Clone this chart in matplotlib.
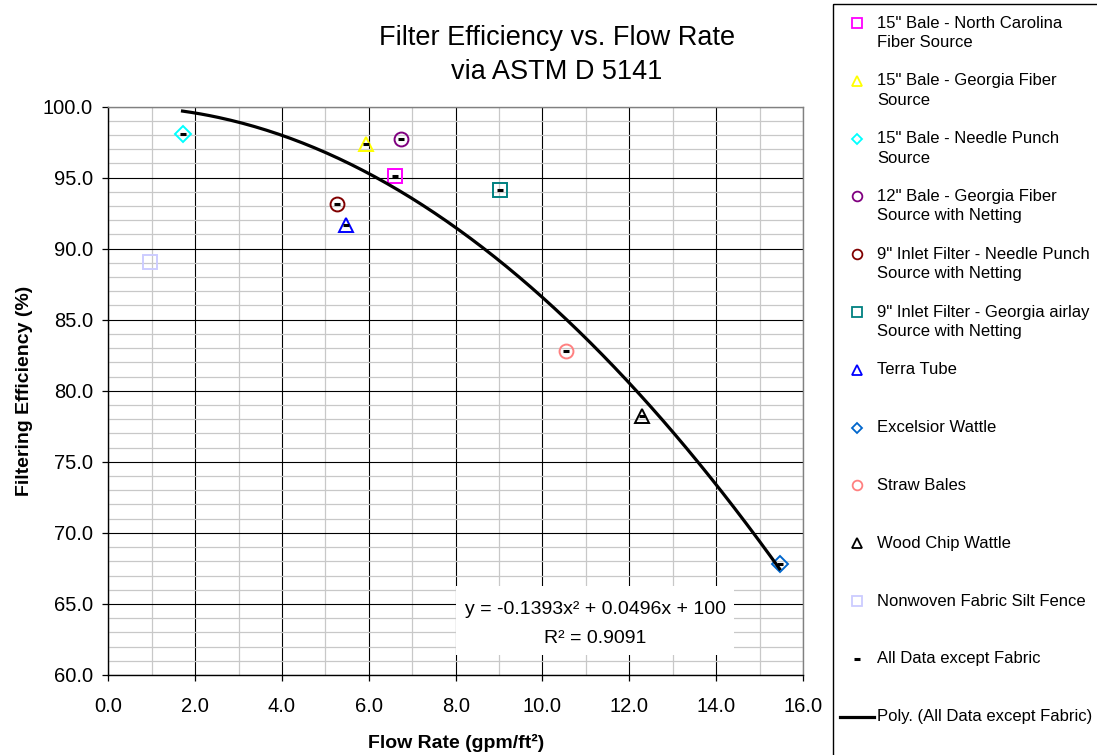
import numpy as np
import matplotlib
matplotlib.use("Agg")
import matplotlib.pyplot as plt
from matplotlib.patches import Rectangle

plt.rcParams['font.family'] = ['Liberation Sans', 'DejaVu Sans']

# data (flow rate gpm/ft2, filtering efficiency %)
labels = [
    '15" Bale - North Carolina\nFiber Source',
    '15" Bale - Georgia Fiber\nSource',
    '15" Bale - Needle Punch\nSource',
    '12" Bale - Georgia Fiber\nSource with Netting',
    '9" Inlet Filter - Needle Punch\nSource with Netting',
    '9" Inlet Filter - Georgia airlay\nSource with Netting',
    'Terra Tube',
    'Excelsior Wattle',
    'Straw Bales',
    'Wood Chip Wattle',
    'Nonwoven Fabric Silt Fence',
]
flow = [6.60, 5.93, 1.71, 6.75, 5.27, 9.02, 5.47, 15.46, 10.55, 12.30, 0.97]
eff = [95.12, 97.35, 98.07, 97.74, 93.17, 94.13, 91.67, 67.79, 82.80, 78.25, 89.08]
markers = ['s', '^', 'D', 'o', 'o', 's', '^', 'D', 'o', '^', 's']
colors = ['#FF00FF', '#FFFF00', '#00FFFF', '#800080', '#800000', '#008080',
          '#0000FF', '#0066CC', '#FF8080', '#000000', '#CCCCFF']

# quadratic trend reported on the chart
coef = [-0.1393, 0.0496, 100]
eq_text = 'y = -0.1393x\u00b2 + 0.0496x + 100'
r2_text = 'R\u00b2 = 0.9091'

# all data except the fabric (last series)
all_x = np.array(flow[:-1])
all_y = np.array(eff[:-1])

fig = plt.figure(figsize=(10.97, 7.55), dpi=100)
ax = fig.add_axes([108.3 / 1097, 80 / 755, 694.7 / 1097, 568.5 / 755])

for x, y, m, c in zip(flow, eff, markers, colors):
    ms = 7.8 if m == 'D' else 10
    ax.plot([x], [y], linestyle='none', marker=m, ms=ms, mfc='none', mec=c, mew=1.4, zorder=3)

xs = np.linspace(all_x.min(), all_x.max(), 200)
ax.plot(xs, np.polyval(coef, xs), color='black', lw=2.3, zorder=4)
ax.plot(all_x, all_y, linestyle='none', marker='_', ms=4.5, mew=2.2, color='black', zorder=5)

ax.set_xlim(0, 16)
ax.set_ylim(60, 100)
ax.set_xticks(np.arange(0, 17, 2))
ax.set_xticks(np.arange(0, 17, 1), minor=True)
ax.set_yticks(np.arange(60, 101, 5))
ax.set_yticks(np.arange(60, 101, 1), minor=True)
ax.xaxis.set_major_formatter(matplotlib.ticker.FormatStrFormatter('%.1f'))
ax.yaxis.set_major_formatter(matplotlib.ticker.FormatStrFormatter('%.1f'))
ax.grid(which='minor', color='#c8c8c8', lw=0.9)
ax.grid(which='major', color='black', lw=0.8)
ax.set_axisbelow(True)
ax.tick_params(which='minor', length=0)
ax.tick_params(which='major', direction='out', length=4.5, width=0.9, labelsize=14.5)
ax.tick_params(axis='x', pad=11.5)
ax.tick_params(axis='y', pad=6.5)
for s in ['left', 'bottom']:
    ax.spines[s].set_color('black')
    ax.spines[s].set_linewidth(1.0)
for s in ['top', 'right']:
    ax.spines[s].set_color('#808080')
    ax.spines[s].set_linewidth(1.0)

ax.set_xlabel('Flow Rate (gpm/ft\u00b2)', fontsize=14, fontweight='bold', labelpad=12.5)
ax.set_ylabel('Filtering Efficiency (%)', fontsize=14, fontweight='bold', labelpad=7)

# equation box
ax.add_patch(Rectangle((0.501, 0.035), 0.40, 0.122, transform=ax.transAxes,
                       facecolor='white', edgecolor='none', zorder=2.5))
ax.text(0.701, 0.1155, eq_text, transform=ax.transAxes, ha='center', va='center', fontsize=14, zorder=6)
ax.text(0.701, 0.0645, r2_text, transform=ax.transAxes, ha='center', va='center', fontsize=14, zorder=6)

# title
fig.text(557 / 1097, 1 - 45 / 755, 'Filter Efficiency vs. Flow Rate', ha='center', va='baseline', fontsize=19.5)
fig.text(557 / 1097, 1 - 79 / 755, 'via ASTM D 5141', ha='center', va='baseline', fontsize=19.5)

# legend drawn in pixel space on an overlay axes
lax = fig.add_axes([0, 0, 1, 1])
lax.set_xlim(0, 1097)
lax.set_ylim(755, 0)
lax.axis('off')
lax.add_patch(Rectangle((832.5, 3.5), 400, 800, fill=False, edgecolor='black', lw=1.0))

row_y = [23 + 57.8 * i for i in range(13)]
for i, (lab, m, c) in enumerate(zip(labels, markers, colors)):
    ms = 5 if m == 'D' else 7
    lax.plot([857], [row_y[i]], linestyle='none', marker=m, ms=ms, mfc='none', mec=c, mew=1.3)
    for k, line in enumerate(lab.split('\n')):
        lax.text(877, row_y[i] + 19.5 * k, line, ha='left', va='center', fontsize=12)
lax.plot([857], [row_y[11]], linestyle='none', marker='_', ms=4.5, mew=2.2, color='black')
lax.text(877, row_y[11], 'All Data except Fabric', ha='left', va='center', fontsize=12)
lax.plot([840, 874], [row_y[12], row_y[12]], color='black', lw=2.3)
lax.text(877, row_y[12], 'Poly. (All Data except Fabric)', ha='left', va='center', fontsize=12)

fig.savefig('out.png', dpi=100)
